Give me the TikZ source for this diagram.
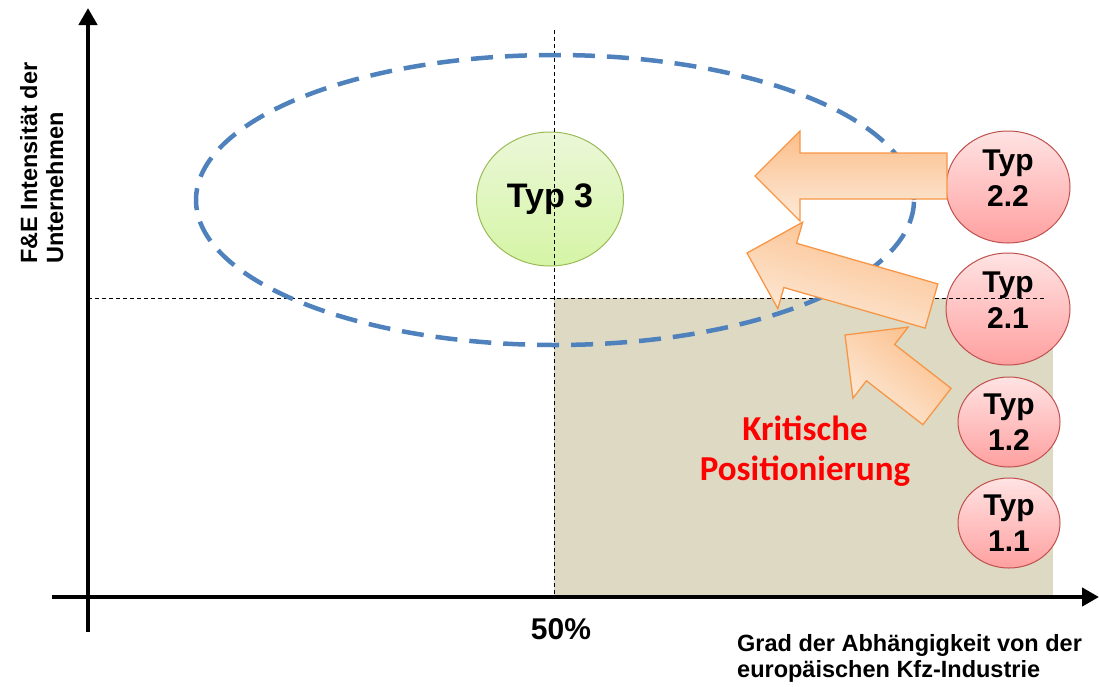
\documentclass[tikz,border=0pt]{standalone}
\usepackage{fontspec}
\setmainfont{Liberation Sans}
\newfontfamily\calfont{Carlito}
\usetikzlibrary{arrows.meta,shapes.geometric,calc}

\definecolor{beige}{HTML}{DDD9C3}
\definecolor{ellblue}{HTML}{4F81BD}
\definecolor{pinkline}{HTML}{C0504D}
\definecolor{pinktop}{HTML}{FFE3E3}
\definecolor{pinkbot}{HTML}{FFA0A0}
\definecolor{greenline}{HTML}{9BBB59}
\definecolor{greentop}{HTML}{EBF7D8}
\definecolor{greenbot}{HTML}{D5F5A5}
\definecolor{orline}{HTML}{F79646}
\definecolor{ordark}{HTML}{FBBE89}
\definecolor{orlight}{HTML}{FDEBDB}
\definecolor{critred}{HTML}{FF0000}

% fat block arrow from tail centre #1 to tip #2, gradient turned by #3
\newcommand\blockarrow[3]{%
  \coordinate (hb) at ($(#2)!45pt!(#1)$);
  \shadedraw[arrowbody, shading angle=#3]
    ($(#1)!23pt!90:(#2)$) -- ($(hb)!23pt!90:(#2)$) -- ($(hb)!45pt!90:(#2)$)
    -- (#2) -- ($(hb)!45pt!-90:(#2)$) -- ($(hb)!23pt!-90:(#2)$)
    -- ($(#1)!23pt!-90:(#2)$) -- cycle;
}

\begin{document}
\begin{tikzpicture}[x=1pt,y=-1pt,
  axis/.style={line width=4.5pt, -{Triangle[length=17pt,width=18pt]}},
  guide/.style={line width=1pt, dash pattern=on 4pt off 3pt},
  typcircle/.style={ellipse, draw=pinkline, line width=1pt,
    top color=pinktop, bottom color=pinkbot, inner sep=0pt, align=center,
    font=\fontsize{30}{36}\selectfont\bfseries},
  raised/.style={text depth=18pt},
  greencircle/.style={ellipse, draw=greenline, line width=1pt,
    top color=greentop, bottom color=greenbot, inner sep=0pt,
    font=\fontsize{34}{40}\selectfont\bfseries},
  arrowbody/.style={draw=orline, line width=1.3pt, top color=ordark, bottom color=orlight},
  axislabel/.style={inner sep=0pt, align=left, font=\fontsize{23.5}{26}\selectfont\bfseries}
]
\useasboundingbox (0,0) rectangle (1099,686);

% critical quadrant
\fill[beige] (554,298) rectangle (1053,595);

% type circles
\node[greencircle, minimum width=147pt, minimum height=134pt] (t3) at (550,199) {Typ 3};
\node[typcircle, raised, minimum width=124pt, minimum height=112pt] (t22) at (1008,187) {Typ\\2.2};
\node[typcircle, raised, minimum width=124pt, minimum height=112pt] (t21) at (1008,309) {Typ\\2.1};
\node[typcircle, minimum width=102pt, minimum height=90pt] (t12) at (1009,422) {Typ\\1.2};
\node[typcircle, minimum width=102pt, minimum height=90pt] (t11) at (1009,523) {Typ\\1.1};

% quadrant guides
\coordinate (hgA) at (88,298);
\coordinate (hgB) at (1045,298);
\coordinate (vgA) at (554,30);
\coordinate (vgB) at (554,597);
\draw[guide] (hgA) -- (hgB);
\draw[guide] (vgA) -- (vgB);

% target region
\draw[ellblue, line width=4.5pt, dash pattern=on 22pt off 12pt]
  (555,200) ellipse [x radius=359pt, y radius=145pt];

% movement arrows
\coordinate (a1s) at (947,176);  \coordinate (a1t) at (755,176);
\coordinate (a2s) at (931.5,306); \coordinate (a2t) at (747,253);
\coordinate (a3s) at (937,406.5); \coordinate (a3t) at (845,335);
\blockarrow{a1s}{a1t}{0}
\blockarrow{a2s}{a2t}{-16}
\blockarrow{a3s}{a3t}{-38}

% axes
\coordinate (yb) at (88,632);  \coordinate (yt) at (88,8);
\coordinate (xl) at (52,597);  \coordinate (xr) at (1099,597);
\draw[axis] (yb) -- (yt);
\draw[axis] (xl) -- (xr);

% labels
\node[axislabel, rotate=90, anchor=north west] (ylab) at (20,264)
  {F\&E Intensität der\\Unternehmen};
\node[axislabel, anchor=base west] (xlab) at (737,677)
  {Grad der Abhängigkeit von der\\europäischen Kfz-Industrie};
\node[inner sep=0pt, anchor=base, font=\fontsize{30}{34}\selectfont\bfseries] (mid) at (561,639) {50\%};
\node[inner sep=0pt, align=center, text=critred, font=\calfont\fontsize{35}{40}\selectfont\bfseries] (crit) at (805,451)
  {Kritische\\Positionierung};
\end{tikzpicture}
\end{document}
